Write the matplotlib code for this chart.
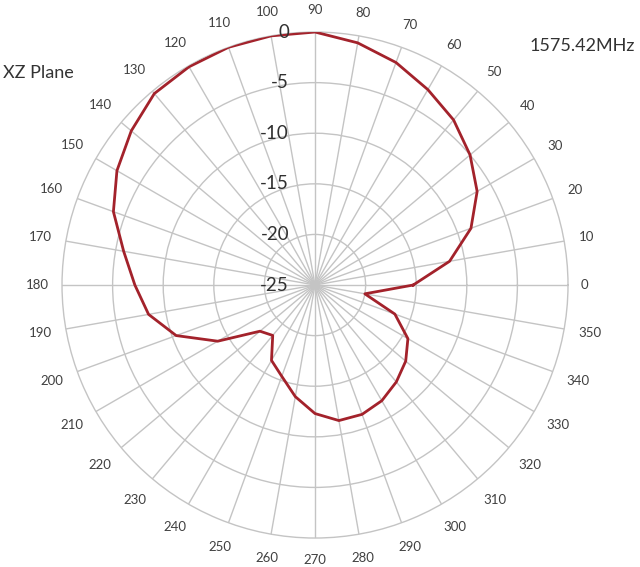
import numpy as np
import matplotlib

matplotlib.use("Agg")
import matplotlib.pyplot as plt


# --- DATA ---
angles_deg = [0, 10, 20, 30, 40, 50, 60, 70, 80, 90, 100, 110,
              120, 130, 140, 150, 160, 170, 180, 190, 200, 210, 220, 230,
              240, 250, 260, 270, 280, 290, 300, 310, 320, 330, 340, 350]
gain_db = [-15.3, -11.5, -8.6, -6.5, -5.0, -3.7, -2.7, -1.6, -0.7, 0.0, 0.0, 0.0,
           -0.1, -0.3, -1.3, -2.4, -3.8, -5.8, -7.2, -8.3, -10.4, -13.9, -17.9, -18.5,
           -16.4, -15.4, -13.8, -12.3, -11.4, -11.4, -11.8, -12.5, -13.3, -14.4, -16.6, -20.0]
ring_values = [-25, -20, -15, -10, -5, 0]
ring_labels = ["-25", "-20", "-15", "-10", "-5", "0"]
spoke_angles = list(range(0, 360, 10))
spoke_labels = [str(a) for a in spoke_angles]

plane_title = "XZ Plane"
freq_title = "1575.42MHz"

FONT = ["Lato", "DejaVu Sans"]
GRID = "#c4c4c4"
LINE = "#a3222b"
DPI = 100


def desenhar():
    fig = plt.figure(figsize=(6.4, 5.67), dpi=DPI)
    # centre ~ (315, 285) px, radius ~ 253 px
    ax = fig.add_axes([0.0969, 0.0511, 0.7906, 0.8924], projection="polar")
    ax.set_ylim(-25, 0)
    ax.set_theta_zero_location("E")
    ax.set_theta_direction(1)

    ax.set_rticks(ring_values[1:-1])
    ax.set_yticklabels([])
    ax.set_thetagrids(spoke_angles, [""] * len(spoke_angles))
    ax.grid(True, color=GRID, linewidth=1.0)
    ax.spines["polar"].set_color(GRID)
    ax.spines["polar"].set_linewidth(1.0)
    ax.tick_params(length=0)

    # pattern (closed)
    th = np.deg2rad(angles_deg + [angles_deg[0]])
    rr = gain_db + [gain_db[0]]
    ax.plot(th, rr, color=LINE, linewidth=2.0, zorder=5)

    # dB labels along the 90 deg spoke
    for v, lab in zip(ring_values, ring_labels):
        ax.annotate(lab, xy=(np.pi / 2, v), xytext=(-26, 0),
                    textcoords="offset pixels", ha="right", va="center",
                    fontsize=13.5, color="#303030", family=FONT,
                    annotation_clip=False, zorder=6)

    # angle labels outside the outer ring
    for a, lab in zip(spoke_angles, spoke_labels):
        t = np.deg2rad(a)
        hw = 3.9 * len(lab)
        off = 13 + hw * abs(np.cos(t)) + 9 * abs(np.sin(t))
        ax.annotate(lab, xy=(t, 0), xytext=(off * np.cos(t), off * np.sin(t)),
                    textcoords="offset pixels", ha="center", va="center",
                    fontsize=9.5, color="#404040", family=FONT,
                    annotation_clip=False)

    fig.text(3 / 640, 1 - 73 / 567, plane_title, ha="left", va="center",
             fontsize=13, color="#333333", family=FONT)
    fig.text(635 / 640, 1 - 46 / 567, freq_title, ha="right", va="center",
             fontsize=13, color="#333333", family=FONT)

    fig.savefig("out.png", dpi=DPI)
    plt.close(fig)


if __name__ == "__main__":
    desenhar()
